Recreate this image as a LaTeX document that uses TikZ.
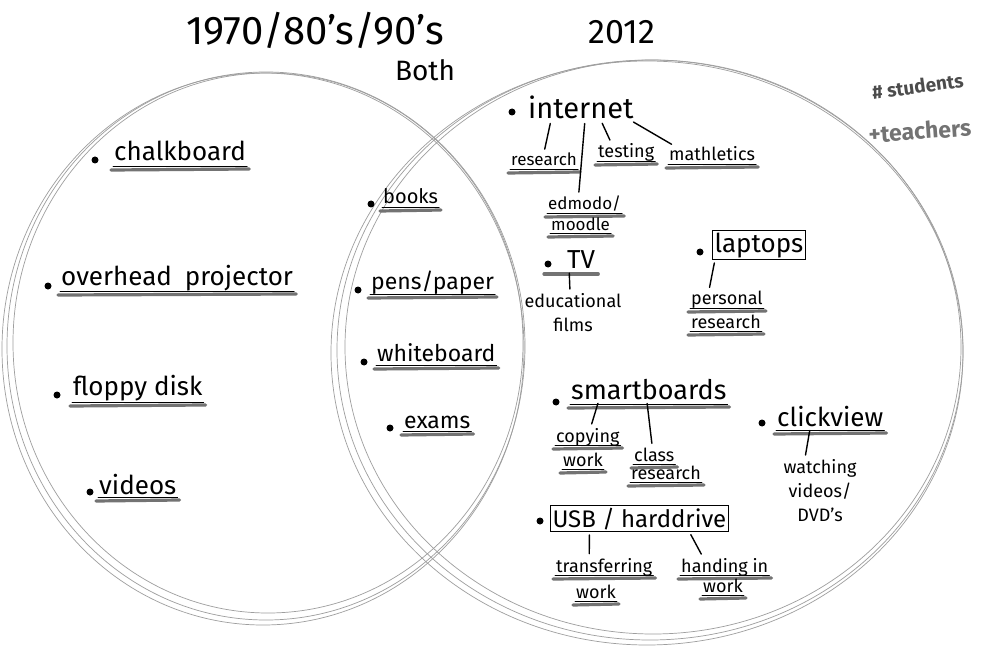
\documentclass[tikz,border=0pt]{standalone}
\usepackage{fontspec}
\setmainfont{Fira Sans}
\begin{document}
\begin{tikzpicture}[x=1pt,y=-1pt,
  every node/.style={inner sep=1pt,text=black},
  ttl/.style={font=\fontsize{40}{42}\selectfont},
  lbl/.style={font=\fontsize{26}{28}\selectfont},
  mid/.style={font=\fontsize{23}{25}\selectfont},
  sub/.style={font=\fontsize{18}{24}\selectfont},
  circ/.style={draw=black!38,line width=0.7pt},
  ulg/.style={draw=black!55,line width=3.2pt,line cap=round},
  ulk/.style={draw=black,line width=0.8pt,line cap=round},
  conn/.style={draw=black,line width=1.4pt,line cap=round,shorten <=3pt,shorten >=3pt},
  boxed/.style={draw=black,line width=1pt,inner sep=2pt},
  bul/.style={fill=black}]
\useasboundingbox (0,0) rectangle (989,650);
\fill[white] (0,0) rectangle (989,650);
\newcommand\myul[2][2]{%
  \draw[ulg] ([xshift=-2pt,yshift=-#1pt-4pt]#2.base west) -- ([xshift=2pt,yshift=-#1pt-3pt]#2.base east);
  \draw[ulk] ([yshift=-#1pt]#2.base west) -- ([yshift=-#1pt]#2.base east);}
% circles
\draw[circ] (266,346) ellipse [x radius=259, y radius=274];
\draw[circ] (268,343) ellipse [x radius=255, y radius=270];
\draw[circ] (263,349) ellipse [x radius=261, y radius=276];
\draw[circ] (650,350) ellipse [x radius=313, y radius=290];
\draw[circ] (653,347) ellipse [x radius=308, y radius=287];
\draw[circ] (647,353) ellipse [x radius=316, y radius=292];
% titles
\node[ttl,anchor=base,inner sep=0pt] (t1) at (315,45) {1970/80's/90's};
\node[font=\fontsize{28}{30}\selectfont,anchor=base,inner sep=0pt] (t2) at (425,81) {Both};
\node[font=\fontsize{34}{36}\selectfont,anchor=base] (t3) at (622,44) {2012};
\node[font=\fontsize{19}{20}\selectfont\bfseries,text=black!70,anchor=base west,rotate=8] (t4) at (872,100) {\# students};
\node[font=\fontsize{23}{24}\selectfont\bfseries,text=black!55,anchor=base west,rotate=4] (t5) at (868,143) {+teachers};
% left
\fill[bul] (95,160) circle (3.5);
\node[lbl,anchor=base west] (chalk) at (113,161) {chalkboard};
\myul[5]{chalk}
\fill[bul] (48,286) circle (3.5);
\node[lbl,anchor=base west] (ohp) at (60,285) {overhead\enspace projector};
\myul[6]{ohp}
\fill[bul] (57,395) circle (3.5);
\node[lbl,anchor=base west] (floppy) at (72,395) {floppy disk};
\myul[7]{floppy}
\fill[bul] (90,492) circle (3.5);
\node[lbl,anchor=base west] (videos) at (98,494) {videos};
\myul[3]{videos}
% both
\fill[bul] (371,204) circle (3.5);
\node[font=\fontsize{20}{22}\selectfont,anchor=base west] (books) at (382,204) {books};
\myul[3]{books}
\fill[bul] (358,290) circle (3.5);
\node[mid,anchor=base west] (pens) at (370,289) {pens/paper};
\myul[5]{pens}
\fill[bul] (364,362) circle (3.5);
\node[mid,anchor=base west] (wb) at (376,361) {whiteboard};
\myul[4]{wb}
\fill[bul] (390,428) circle (3.5);
\node[mid,anchor=base west] (exams) at (403,428) {exams};
\myul[3]{exams}
% 2012: internet
\fill[bul] (512,112) circle (3.5);
\node[font=\fontsize{29}{31}\selectfont,anchor=base west] (inet) at (527,119) {internet};
\node[font=\fontsize{17}{20}\selectfont,anchor=base west] (research) at (510,166) {research};
\myul[3]{research}
\node[sub,anchor=base west] (testing) at (597,158) {testing};
\myul[3]{testing}
\node[sub,anchor=base west] (math) at (668,161) {mathletics};
\myul[3]{math}
\node[font=\fontsize{17}{20}\selectfont,anchor=base west] (edmodo) at (547,210) {edmodo/};
\myul[3]{edmodo}
\node[font=\fontsize{17}{20}\selectfont,anchor=base west] (moodle) at (550,230) {moodle};
\myul[3]{moodle}
\draw[conn] ([xshift=-30pt]inet.south) -- (research.north);
\draw[conn] ([xshift=4pt]inet.south) -- ([xshift=-6pt]edmodo.north);
\draw[conn] ([xshift=20pt]inet.south) -- ([xshift=-15pt]testing.north);
\draw[conn] ([xshift=-4pt]inet.south east) -- ([xshift=-38pt]math.north);
% TV
\fill[bul] (548,264) circle (3.5);
\node[lbl,anchor=base west] (tv) at (566,269) {TV};
\draw[ulg] ([xshift=-22pt,yshift=-5pt]tv.base west) -- ([xshift=2pt,yshift=-5pt]tv.base east);
\node[sub,align=center,anchor=north] (edu) at (573,292) {educational\\films};
\draw[conn] ([xshift=-12pt]tv.south) -- ([xshift=-3pt]edu.north);
% laptops
\fill[bul] (700,252) circle (3.5);
\node[lbl,boxed,anchor=base west] (laptops) at (712,252) {laptops};
\node[sub,anchor=base west] (pers) at (690,305) {personal};
\myul[3]{pers}
\node[sub,anchor=base west] (pres) at (690,328) {research};
\myul[3]{pres}
\draw[conn] ([xshift=-44pt]laptops.south) -- ([xshift=-18pt]pers.north);
% smartboards
\fill[bul] (556,402) circle (3.5);
\node[font=\fontsize{27}{29}\selectfont,anchor=base west] (smart) at (570,399) {smartboards};
\myul[5]{smart}
\node[sub,anchor=base west] (copy) at (555,442) {copying};
\myul[3]{copy}
\node[sub,anchor=base west] (cwork) at (562,466) {work};
\myul[3]{cwork}
\node[sub,anchor=base west] (class) at (633,461) {class};
\myul[3]{class}
\node[sub,anchor=base west] (cres) at (630,479) {research};
\myul[3]{cres}
\draw[conn] ([xshift=-50pt]smart.south) -- ([xshift=3pt]copy.north);
\draw[conn] ([xshift=-2pt]smart.south) -- ([xshift=-2pt]class.north);
% clickview
\fill[bul] (762,423) circle (3.5);
\node[lbl,anchor=base west] (click) at (776,426) {clickview};
\myul[4]{click}
\node[sub,align=center,anchor=north] (watch) at (820,458) {watching\\videos/\\DVD's};
\draw[conn] ([xshift=-20pt]click.south) -- ([xshift=-15pt]watch.north);
% USB
\fill[bul] (540,521) circle (3.5);
\node[font=\fontsize{24}{26}\selectfont,boxed,anchor=base west] (usb) at (550,527) {USB / harddrive};
\node[sub,anchor=base west] (trans) at (555,572) {transferring};
\myul[3]{trans}
\node[sub,anchor=base west] (twork) at (575,598) {work};
\myul[3]{twork}
\node[sub,anchor=base west] (hand) at (680,572) {handing in};
\myul[3]{hand}
\node[sub,anchor=base west] (hwork) at (702,592) {work};
\myul[3]{hwork}
\draw[conn] ([xshift=-50pt]usb.south) -- ([xshift=-15pt]trans.north);
\draw[conn] ([xshift=50pt]usb.south) -- ([xshift=-22pt]hand.north);
\end{tikzpicture}
\end{document}
